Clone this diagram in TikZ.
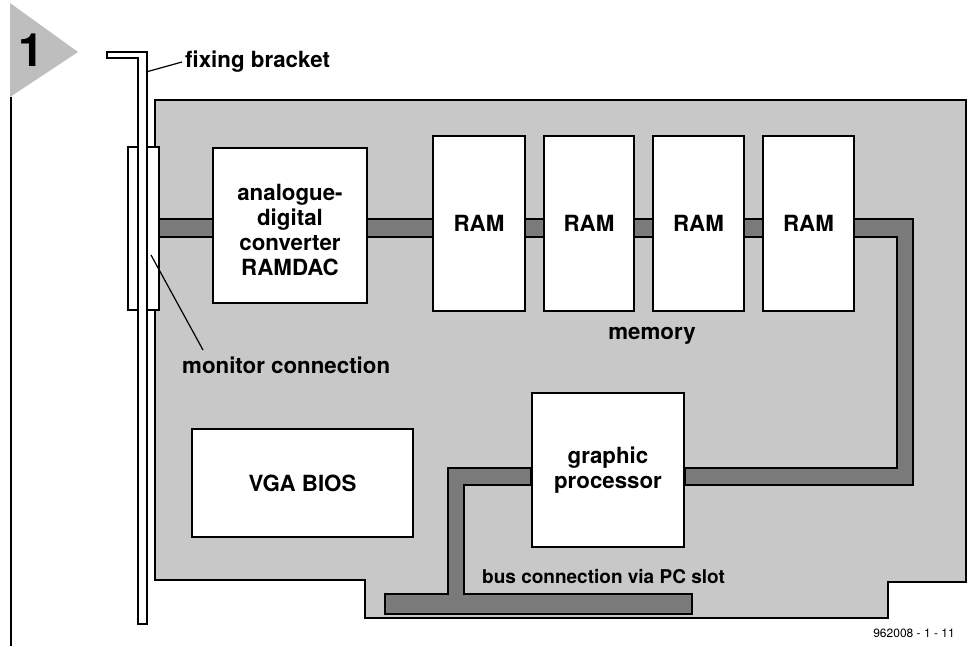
\documentclass[tikz,border=0pt]{standalone}
\usepackage{fontspec}
\setmainfont{TeX Gyre Heros}
\usetikzlibrary{calc}
\definecolor{boardgray}{RGB}{200,200,200}
\definecolor{busgray}{RGB}{122,122,122}
\definecolor{taggray}{RGB}{190,190,190}
\pgfdeclarelayer{boardlayer}
\pgfdeclarelayer{buslayer}
\pgfsetlayers{boardlayer,buslayer,main}
\begin{document}
\begin{tikzpicture}[x=1pt,y=-1pt,
  txt/.style={font=\bfseries\fontsize{22.3}{25}\selectfont},
  blk/.style={draw=black, line width=2.8pt, fill=white, align=center, inner sep=0pt, txt},
  busband/.style={fill=busgray, draw=black, line width=1.3pt},
  lbl/.style={inner sep=0pt, txt},
  thin/.style={line width=1.2pt}]
\useasboundingbox (0,0) rectangle (973,646);
% figure tag
\fill[taggray] (10,3) -- (78,52) -- (10,97) -- cycle;
\node[inner sep=0pt, font=\bfseries\fontsize{46}{46}\selectfont] (tagnum) at (31,50) {1};
\draw[thin] (11,97) -- (11,646);
% board
\begin{pgfonlayer}{boardlayer}
\draw[fill=boardgray, line width=1.5pt] (155,100) -- (966,100) -- (966,582) -- (888,582) -- (888,618) -- (365,618) -- (365,580) -- (155,580) -- cycle;
\end{pgfonlayer}
% monitor connector
\node[draw, thin, fill=white, minimum width=31pt, minimum height=163pt, inner sep=0pt] (conn) at (143.5,228.5) {};
% fixing bracket
\draw[thin, fill=white] (107,52) -- (147,52) -- (147,624) -- (138,624) -- (138,58) -- (107,58) -- cycle;
\coordinate (brk) at (146,72);
\coordinate (mon) at (151,255);
% blocks
\node[blk, minimum width=154pt, minimum height=155pt] (adc) at (290,225.5) {};
\node[txt, align=center, inner sep=0pt] (adctext) at ($(adc.center)+(0,4)$) {analogue-\\digital\\converter\\RAMDAC};
\node[blk, minimum width=92pt, minimum height=175pt] (ram1) at (479,223.5) {RAM};
\node[blk, minimum width=90pt, minimum height=175pt] (ram2) at (589,223.5) {RAM};
\node[blk, minimum width=91pt, minimum height=175pt] (ram3) at (698.5,223.5) {RAM};
\node[blk, minimum width=91pt, minimum height=175pt] (ram4) at (808.5,223.5) {RAM};
\node[blk, minimum width=152pt, minimum height=154pt] (gp) at (608,470) {graphic\\processor};
\node[blk, minimum width=221pt, minimum height=108pt] (vga) at (302.5,483) {VGA BIOS};
% buses
\begin{pgfonlayer}{buslayer}
\draw[busband] (conn.east |- 0,219) -- (913,219) -- (913,485) -- (gp.east |- 0,485) -- (gp.east |- 0,468) -- (897,468) -- (897,237) -- (conn.east |- 0,237) -- cycle;
\draw[busband] (gp.west |- 0,468) -- (448,468) -- (448,594) -- (385,594) -- (385,614) -- (692,614) -- (692,594) -- (464,594) -- (464,485) -- (gp.west |- 0,485) -- cycle;
\end{pgfonlayer}
% labels
\node[lbl, anchor=west] (lfix) at (185,62) {fixing bracket};
\node[lbl, anchor=west] (lmon) at (182,365) {monitor connection};
\node[lbl] (lmem) at (652,336) {memory};
\node[lbl, anchor=west, font=\bfseries\fontsize{19}{19}\selectfont] (lbus) at (482,577) {bus connection via PC slot};
\node[inner sep=0pt, font=\fontsize{12}{12}\selectfont] (code) at (914,633) {962008 - 1 - 11};
\draw[thin] (brk) -- ($(lfix.west)+(-3,0)$);
\draw[thin] (mon) -- (203,350);
\end{tikzpicture}
\end{document}
